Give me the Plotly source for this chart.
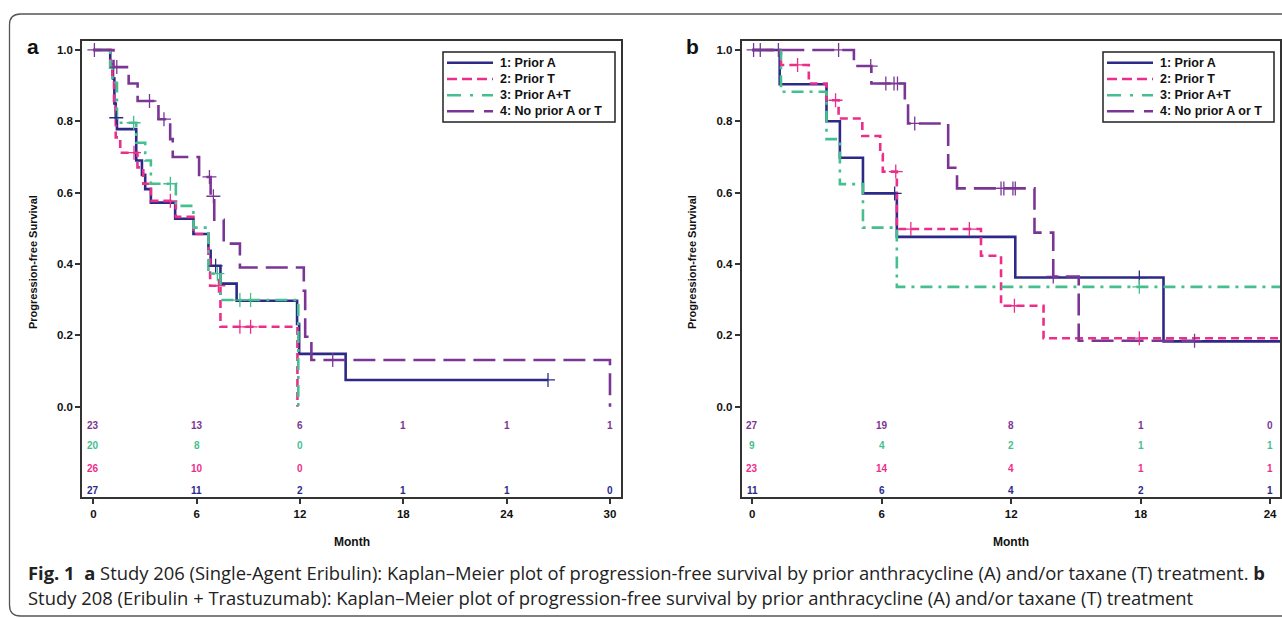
import plotly.graph_objects as go

W, H = 1282, 618

# ---------------- data: panel a (Study 206) ----------------
a1_t = [0, 0.98, 1.14, 1.22, 1.30, 1.37, 2.49, 2.82, 3.01, 3.34, 4.75, 5.81, 6.68, 6.81, 7.38, 8.32, 11.83, 11.95, 14.65, 26.4]
a1_s = [1.0, 0.95, 0.92, 0.85, 0.81, 0.778, 0.69, 0.65, 0.61, 0.572, 0.527, 0.484, 0.437, 0.395, 0.345, 0.297, 0.232, 0.148, 0.075, 0.075]
a1_ct = [1.33, 7.1, 26.4]
a1_cs = [0.81, 0.395, 0.075]

a2_t = [0, 1.0, 1.1, 1.2, 1.3, 1.56, 2.56, 2.9, 3.34, 4.79, 5.81, 6.68, 6.78, 7.38, 11.85]
a2_s = [1.0, 0.96, 0.92, 0.85, 0.755, 0.712, 0.671, 0.625, 0.577, 0.532, 0.484, 0.42, 0.339, 0.224, 0.0]
a2_ct = [2.36, 4.47, 7.26, 8.51, 9.13]
a2_cs = [0.712, 0.577, 0.339, 0.224, 0.224]

a3_t = [0, 0.98, 1.1, 1.37, 2.49, 3.01, 3.34, 4.79, 5.81, 6.68, 7.38, 11.9]
a3_s = [1.0, 0.95, 0.908, 0.796, 0.74, 0.69, 0.625, 0.563, 0.502, 0.373, 0.299, 0.0]
a3_ct = [2.34, 4.47, 7.2, 8.51, 9.13]
a3_cs = [0.796, 0.625, 0.373, 0.299, 0.299]

a4_t = [0, 1.17, 2.05, 2.57, 3.78, 4.46, 4.61, 6.14, 6.81, 7.02, 7.57, 8.51, 12.22, 12.3, 12.66, 30.0]
a4_s = [1.0, 0.952, 0.906, 0.857, 0.806, 0.75, 0.70, 0.644, 0.59, 0.524, 0.457, 0.39, 0.325, 0.196, 0.131, 0.0]
a4_ct = [0.06, 1.36, 3.26, 4.1, 6.74, 6.97, 13.9]
a4_cs = [1.0, 0.952, 0.857, 0.806, 0.644, 0.59, 0.131]

a_risk_x = [0, 6, 12, 18, 24, 30]
a_risk_4 = [23, 13, 6, 1, 1, 1]
a_risk_3 = [20, 8, 0]
a_risk_2 = [26, 10, 0]
a_risk_1 = [27, 11, 2, 1, 1, 0]

# ---------------- data: panel b (Study 208) ----------------
b1_t = [0, 1.27, 3.44, 4.06, 5.13, 6.70, 12.19, 19.06, 24.6]
b1_s = [1.0, 0.904, 0.80, 0.698, 0.598, 0.476, 0.362, 0.183, 0.183]
b1_ct = [6.6, 17.94]
b1_cs = [0.598, 0.362]

b2_t = [0, 1.33, 2.62, 3.44, 4.0, 5.1, 5.93, 6.05, 6.70, 10.6, 11.53, 13.5, 24.6]
b2_s = [1.0, 0.958, 0.906, 0.859, 0.808, 0.759, 0.708, 0.659, 0.498, 0.423, 0.283, 0.192, 0.192]
b2_ct = [2.1, 3.86, 6.65, 7.35, 10.06, 12.15, 17.94]
b2_cs = [0.958, 0.859, 0.659, 0.498, 0.498, 0.283, 0.192]

b3_t = [0, 1.33, 3.44, 4.06, 5.13, 6.70, 24.6]
b3_s = [1.0, 0.883, 0.75, 0.624, 0.502, 0.336, 0.336]
b3_ct = [17.94]
b3_cs = [0.336]

b4_t = [0, 4.71, 5.52, 7.07, 7.22, 9.08, 9.49, 13.08, 13.95, 15.13, 20.5]
b4_s = [1.0, 0.955, 0.906, 0.852, 0.794, 0.670, 0.612, 0.488, 0.365, 0.185, 0.185]
b4_ct = [0.06, 0.37, 1.21, 4.0, 5.49, 6.19, 6.57, 6.73, 7.53, 11.53, 11.66, 12.08, 12.19, 13.95, 20.5]
b4_cs = [1.0, 1.0, 1.0, 1.0, 0.955, 0.906, 0.906, 0.906, 0.794, 0.612, 0.612, 0.612, 0.612, 0.365, 0.185]

b_risk_x = [0, 6, 12, 18, 24]
b_risk_4 = [27, 19, 8, 1, 0]
b_risk_3 = [9, 4, 2, 1, 1]
b_risk_2 = [23, 14, 4, 1, 1]
b_risk_1 = [11, 6, 4, 2, 1]

names = ["1: Prior A", "2: Prior T", "3: Prior A+T", "4: No prior A or T"]
colors = ["#2c2a86", "#ec2e8b", "#45bf8f", "#7b3695"]
dashes = ["solid", "8px,5px", "12px,6px,3px,6px", "22px,8px"]
legend_dashes = ["solid", "10px,5px", "14px,9px,3px,9px", "27px,10px"]

FONT = "Liberation Sans, Arial, sans-serif"


def px(x):
    return x / W


def py(y):
    return 1 - y / H


fig = go.Figure()

panels = [
    ("x", "y", [(a1_t, a1_s, a1_ct, a1_cs), (a2_t, a2_s, a2_ct, a2_cs),
                (a3_t, a3_s, a3_ct, a3_cs), (a4_t, a4_s, a4_ct, a4_cs)]),
    ("x2", "y2", [(b1_t, b1_s, b1_ct, b1_cs), (b2_t, b2_s, b2_ct, b2_cs),
                  (b3_t, b3_s, b3_ct, b3_cs), (b4_t, b4_s, b4_ct, b4_cs)]),
]

for xa, ya, series in panels:
    for i, (t, s, ct, cs) in enumerate(series):
        fig.add_trace(go.Scatter(
            x=t, y=s, mode="lines", line=dict(shape="hv", color=colors[i], width=2.6, dash=dashes[i]),
            name=names[i], xaxis=xa, yaxis=ya, showlegend=False,
        ))
    for i, (t, s, ct, cs) in enumerate(series):
        fig.add_trace(go.Scatter(
            x=ct, y=cs, mode="markers",
            marker=dict(symbol="cross-thin", size=10, line=dict(color=colors[i], width=1.3)),
            xaxis=xa, yaxis=ya, showlegend=False, hoverinfo="skip",
        ))

ann = []
shapes = []

# at-risk numbers
risk_rows_y = [-0.053, -0.110, -0.173, -0.236]
a_rows = [(a_risk_4, colors[3]), (a_risk_3, colors[2]), (a_risk_2, colors[1]), (a_risk_1, colors[0])]
b_rows = [(b_risk_4, colors[3]), (b_risk_3, colors[2]), (b_risk_2, colors[1]), (b_risk_1, colors[0])]
for rows, xs, xr, yr in [(a_rows, a_risk_x, "x", "y"), (b_rows, b_risk_x, "x2", "y2")]:
    for (vals, col), yy in zip(rows, risk_rows_y):
        for xv, v in zip(xs, vals):
            ann.append(dict(x=xv, y=yy, xref=xr, yref=yr, text="<b>%d</b>" % v, showarrow=False,
                            font=dict(family=FONT, size=10, color=col), xanchor="center", yanchor="middle"))

# legends (drawn as boxes, line samples and text)
for bx0, bx1 in [(443, 615), (1103, 1274)]:
    shapes.append(dict(type="rect", xref="paper", yref="paper", x0=px(bx0), x1=px(bx1), y0=py(122), y1=py(52),
                       line=dict(color="#222", width=1.5), fillcolor="white", layer="above"))
    for i, ly in enumerate([62.7, 79.0, 95.3, 111.3]):
        shapes.append(dict(type="line", xref="paper", yref="paper", x0=px(bx0 + 4), x1=px(bx0 + 50),
                           y0=py(ly), y1=py(ly), line=dict(color=colors[i], width=2.6, dash=legend_dashes[i]),
                           layer="above"))
        ann.append(dict(x=px(bx0 + 55), y=py(ly), xref="paper", yref="paper", text="<b>" + names[i] + "</b>",
                        showarrow=False, font=dict(family=FONT, size=12.5, color="#111"),
                        xanchor="left", yanchor="middle"))

# axis titles
for cx in [33, 692]:
    ann.append(dict(x=px(cx), y=py(262), xref="paper", yref="paper",
                    text="<b>Progression-free Survival</b>", textangle=-90, showarrow=False,
                    font=dict(family=FONT, size=11, color="#111"), xanchor="center", yanchor="middle"))
for cx in [351.5, 1010.7]:
    ann.append(dict(x=px(cx), y=py(542), xref="paper", yref="paper", text="<b>Month</b>", showarrow=False,
                    font=dict(family=FONT, size=12, color="#111"), xanchor="center", yanchor="middle"))
# panel letters
ann.append(dict(x=px(25), y=py(46), xref="paper", yref="paper", text="<b>a</b>", showarrow=False,
                font=dict(family=FONT, size=21, color="#111"), xanchor="left", yanchor="middle"))
ann.append(dict(x=px(684), y=py(46), xref="paper", yref="paper", text="<b>b</b>", showarrow=False,
                font=dict(family=FONT, size=21, color="#111"), xanchor="left", yanchor="middle"))
# caption
CAP = "Open Sans, sans-serif"
ann.append(dict(x=px(26), y=py(572), xref="paper", yref="paper",
                text="<b>Fig. 1</b>  <b>a</b> Study 206 (Single-Agent Eribulin): Kaplan–Meier plot of progression-free survival by prior anthracycline (A) and/or taxane (T) treatment. <b>b</b>",
                showarrow=False, font=dict(family=CAP, size=18.4, color="#222"), xanchor="left", yanchor="middle"))
ann.append(dict(x=px(26), y=py(597), xref="paper", yref="paper",
                text="Study 208 (Eribulin + Trastuzumab): Kaplan–Meier plot of progression-free survival by prior anthracycline (A) and/or taxane (T) treatment",
                showarrow=False, font=dict(family=CAP, size=18.4, color="#222"), xanchor="left", yanchor="middle"))

# outer rounded frame
x0, y0, x1, y1, r = px(9.5), py(14), 1.01, py(616), 11
rx, ry = r / W, r / H
path = (f"M {x1},{y0} L {x0 + rx},{y0} Q {x0},{y0} {x0},{y0 - ry} "
        f"L {x0},{y1 + ry} Q {x0},{y1} {x0 + rx},{y1} L {x1},{y1}")
shapes.append(dict(type="path", path=path, xref="paper", yref="paper", line=dict(color="#555", width=1.3)))

ydom = [py(497.3), py(40.7)]
axis_common = dict(showline=True, mirror=True, linecolor="#333", linewidth=1.5, showgrid=False,
                   zeroline=False, ticks="outside", ticklen=5, tickwidth=1.5, tickcolor="#333",
                   tickfont=dict(family=FONT, size=11.5, color="#111"))

fig.update_layout(
    width=W, height=H, margin=dict(l=0, r=0, t=0, b=0),
    paper_bgcolor="white", plot_bgcolor="white", showlegend=False,
    xaxis=dict(domain=[px(82), px(621)], range=[-0.66, 30.64], tickvals=[0, 6, 12, 18, 24, 30],
               ticktext=["<b>%d</b>" % v for v in [0, 6, 12, 18, 24, 30]], anchor="y", **axis_common),
    yaxis=dict(domain=ydom, range=[-0.254, 1.026], tickvals=[0, 0.2, 0.4, 0.6, 0.8, 1.0],
               ticktext=["<b>%.1f</b>" % v for v in [0, 0.2, 0.4, 0.6, 0.8, 1.0]], anchor="x", **axis_common),
    xaxis2=dict(domain=[px(741.5), px(1280)], range=[-0.5, 24.46], tickvals=[0, 6, 12, 18, 24],
                ticktext=["<b>%d</b>" % v for v in [0, 6, 12, 18, 24]], anchor="y2", **axis_common),
    yaxis2=dict(domain=ydom, range=[-0.254, 1.026], tickvals=[0, 0.2, 0.4, 0.6, 0.8, 1.0],
                ticktext=["<b>%.1f</b>" % v for v in [0, 0.2, 0.4, 0.6, 0.8, 1.0]], anchor="x2", **axis_common),
    annotations=ann,
    shapes=shapes,
)

fig.write_html("out.html", config={"displayModeBar": False},
               post_script="document.body.style.margin='0px';document.body.style.overflow='hidden';")
